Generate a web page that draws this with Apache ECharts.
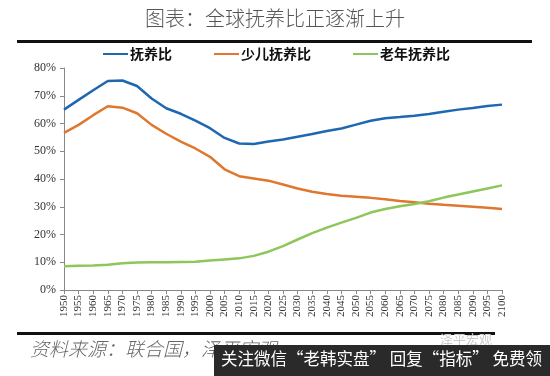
<!DOCTYPE html>
<html>
<head>
<meta charset="utf-8">
<script src="https://cdn.jsdelivr.net/npm/echarts@6/dist/echarts.min.js"></script>
<style>
  html, body { margin: 0; padding: 0; background: #fff; }
  #chart { width: 550px; height: 376px; }
</style>
</head>
<body>
<div id="chart"></div>
<script>
// 年份（每5年）
const years = [];
for (let y = 1950; y <= 2100; y += 5) years.push(String(y));

// 抚养比（%）
const totalRatio = [65, 68.5, 72, 75.3, 75.5, 73.5, 69, 65.5, 63.5, 61, 58.3, 54.8, 52.8, 52.6, 53.5, 54.2,
  55.2, 56.2, 57.3, 58.2, 59.6, 61, 61.9, 62.3, 62.8, 63.4, 64.2, 65, 65.6, 66.3, 66.8];
const youthRatio = [56.6, 59.5, 63, 66.2, 65.7, 63.7, 59.5, 56.3, 53.5, 51, 48, 43.5, 41, 40.2, 39.4, 38,
  36.6, 35.4, 34.6, 34, 33.6, 33.2, 32.7, 32.1, 31.6, 31.1, 30.7, 30.4, 30, 29.6, 29.2];
const oldRatio = [8.6, 8.7, 8.8, 9.1, 9.6, 9.9, 10, 10, 10.1, 10.2, 10.6, 11, 11.4, 12.3, 13.8, 15.8,
  18.2, 20.5, 22.5, 24.3, 26, 27.9, 29.2, 30.2, 31, 32, 33.3, 34.4, 35.5, 36.6, 37.7];

const yTicks = [0, 10, 20, 30, 40, 50, 60, 70, 80];

const chart = echarts.init(document.getElementById('chart'));

chart.setOption({
    animation: false,
    backgroundColor: '#fff',
    title: {
        text: '图表：全球抚养比正逐渐上升',
        left: 'center',
        top: 3,
        textStyle: {
            fontFamily: 'Noto Sans CJK SC',
            fontWeight: 300,
            fontSize: 20,
            color: '#555'
        }
    },
    legend: {
        top: 42,
        left: 98,
        itemGap: 42,
        itemWidth: 25,
        itemHeight: 2,
        icon: 'rect',
        textStyle: {
            fontFamily: 'Noto Sans CJK SC',
            fontWeight: 'bold',
            fontSize: 14,
            color: '#111',
            padding: [0, 0, 0, -3]
        },
        data: ['抚养比', '少儿抚养比', '老年抚养比']
    },
    grid: {
        left: 64,
        right: 48,
        top: 68,
        bottom: 86
    },
    xAxis: {
        type: 'category',
        data: years,
        boundaryGap: false,
        axisLine: { lineStyle: { color: '#888' } },
        axisTick: { lineStyle: { color: '#888' }, length: 4 },
        axisLabel: {
            rotate: 90,
            interval: 0,
            fontFamily: 'Liberation Serif',
            fontSize: 11,
            color: '#333',
            margin: 5
        }
    },
    yAxis: {
        type: 'value',
        min: yTicks[0],
        max: yTicks[yTicks.length - 1],
        interval: 10,
        axisLine: { show: true, lineStyle: { color: '#888' } },
        axisTick: { show: true, lineStyle: { color: '#888' }, length: 4 },
        splitLine: { show: false },
        axisLabel: {
            formatter: '{value}%',
            fontFamily: 'Liberation Serif',
            fontSize: 12,
            color: '#333',
            margin: 8
        }
    },
    series: [
        {
            name: '抚养比',
            type: 'line',
            data: totalRatio,
            showSymbol: false,
            color: '#1f67b0',
            lineStyle: { width: 2.5 }
        },
        {
            name: '少儿抚养比',
            type: 'line',
            data: youthRatio,
            showSymbol: false,
            color: '#e0772f',
            lineStyle: { width: 2.5 }
        },
        {
            name: '老年抚养比',
            type: 'line',
            data: oldRatio,
            showSymbol: false,
            color: '#8dc65a',
            lineStyle: { width: 2.5 }
        }
    ],
    graphic: [
        // 顶部粗线
        { type: 'rect', shape: { x: 17, y: 40, width: 515, height: 3 }, style: { fill: '#111' } },
        // 底部粗线
        { type: 'rect', shape: { x: 17, y: 332, width: 478, height: 3 }, style: { fill: '#111' } },
        {
            type: 'text', left: 30, top: 339,
            style: {
                text: '资料来源：联合国，泽平宏观',
                font: 'italic 300 19px "Noto Sans CJK SC"',
                fill: '#666'
            }
        },
        {
            type: 'text', left: 440, top: 333,
            style: { text: '泽平宏观', font: '13px "Noto Sans CJK SC"', fill: '#ccc' }
        },
        // 水印条
        { type: 'rect', shape: { x: 214, y: 345, width: 336, height: 31 }, style: { fill: '#2a2a2a' } },
        {
            type: 'text', left: 221, top: 350,
            style: {
                text: '关注微信“老韩实盘” 回复“指标” 免费领',
                font: '16.5px "Noto Sans CJK SC"',
                fill: '#fff'
            }
        }
    ]
});
</script>
</body>
</html>
